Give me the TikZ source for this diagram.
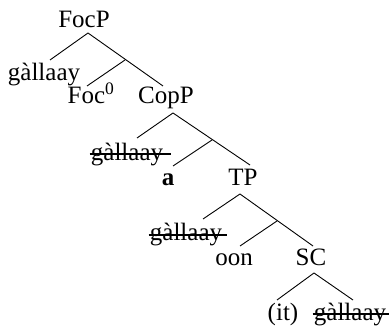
\documentclass[tikz,border=0pt]{standalone}
\usepackage{fontspec}
\setmainfont{Liberation Serif}
\begin{document}
\begin{tikzpicture}[x=1pt,y=-1pt,
  lbl/.style={font=\fontsize{25}{30}\selectfont, inner sep=0pt, anchor=base},
  branch/.style={line width=0.9pt},
  strike/.style={line width=1.5pt}]
\useasboundingbox (0,0) rectangle (391,328);
% level 1
\node[lbl] (focp) at (84,28) {FocP};
\coordinate (a0) at (88,33);
\coordinate (s1) at (50,60);
\coordinate (b1) at (125,60);
\coordinate (f1) at (87,86);
\coordinate (c1) at (163,86);
\node[lbl] (spec1) at (44,81) {gàllaay};
\node[lbl] (foc) at (91,104) {Foc\textsuperscript{0}};
\node[lbl] (copp) at (166,104) {CopP};
\draw[branch] (a0) -- (s1);
\draw[branch] (a0) -- (c1);
\draw[branch] (b1) -- (f1);
% level 2
\coordinate (a1) at (173,113);
\coordinate (s2) at (137,138);
\coordinate (b2) at (212,140);
\coordinate (f2) at (173,166);
\coordinate (c2) at (250,165);
\node[lbl] (spec2) at (127,161) {gàllaay};
\node[lbl] (cop) at (168,186) {\textbf{a}};
\node[lbl] (tp) at (243,186) {TP};
\draw[branch] (a1) -- (s2);
\draw[branch] (a1) -- (c2);
\draw[branch] (b2) -- (f2);
\draw[strike] ([xshift=-1pt,yshift=7pt]spec2.base west) -- ([xshift=8pt,yshift=7pt]spec2.base east);
% level 3
\coordinate (a2) at (240,194);
\coordinate (s3) at (203,219);
\coordinate (b3) at (277,221);
\coordinate (f3) at (240,246);
\coordinate (c3) at (313,246);
\node[lbl] (spec3) at (186,241) {gàllaay};
\node[lbl] (t) at (234,266) {oon};
\node[lbl] (sc) at (311,266) {SC};
\draw[branch] (a2) -- (s3);
\draw[branch] (a2) -- (c3);
\draw[branch] (b3) -- (f3);
\draw[strike] ([xshift=-1pt,yshift=6pt]spec3.base west) -- ([xshift=5pt,yshift=6pt]spec3.base east);
% level 4
\coordinate (a3) at (314,273);
\coordinate (s4) at (277,300);
\coordinate (c4) at (353,300);
\node[lbl] (subj) at (283,321) {(it)};
\node[lbl] (pred) at (350,321) {gàllaay};
\draw[branch] (a3) -- (s4);
\draw[branch] (a3) -- (c4);
\draw[strike] ([xshift=-1pt,yshift=7pt]pred.base west) -- ([xshift=3pt,yshift=7pt]pred.base east);
\end{tikzpicture}
\end{document}
